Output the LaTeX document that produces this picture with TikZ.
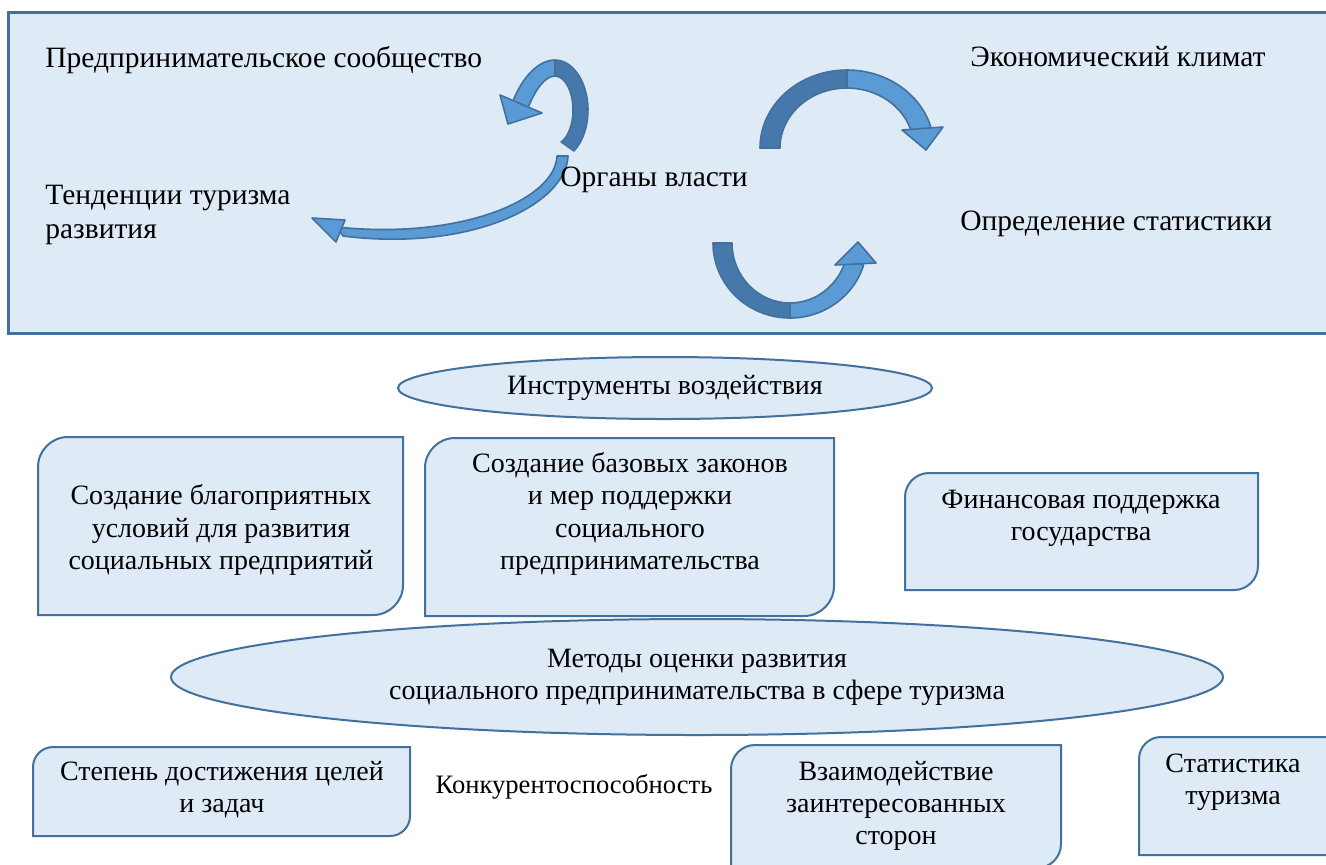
\documentclass[tikz,border=0pt]{standalone}
\usepackage{fontspec}
\setmainfont{Liberation Serif}
\usetikzlibrary{shapes.geometric}
\definecolor{fillblue}{RGB}{222,234,246}
\definecolor{edgeblue}{RGB}{65,113,156}
\definecolor{arrlight}{RGB}{91,155,213}
\definecolor{arrdark}{RGB}{70,120,172}
\newcommand\rdiag[5]{%
  \filldraw[shp] (#1+#5,#2) -- (#3,#2) -- (#3,#4-#5)
    .. controls (#3,#4-0.45*#5) and (#3-0.45*#5,#4) .. (#3-#5,#4)
    -- (#1,#4) -- (#1,#2+#5)
    .. controls (#1,#2+0.45*#5) and (#1+0.45*#5,#2) .. cycle;}
\begin{document}
\begin{tikzpicture}[x=0.5pt,y=-0.5pt,
  panel/.style={fill=fillblue,draw=edgeblue,line width=1.5pt},
  shp/.style={fill=fillblue,draw=edgeblue,line width=1pt},
  lbl/.style={font=\fontsize{14}{16.1}\selectfont,inner sep=0pt},
  toplbl/.style={font=\fontsize{14.75}{17}\selectfont,inner sep=0pt,anchor=west},
  ctr/.style={lbl,align=center},
  elnode/.style={ellipse,shp,inner sep=0pt,align=center,font=\fontsize{14}{16.1}\selectfont},
  arrL/.style={fill=arrlight,draw=edgeblue,line width=0.8pt,line join=round},
  arrD/.style={fill=arrdark,draw=edgeblue,line width=0.8pt,line join=round}]
\useasboundingbox (0,0) rectangle (1326,864);
\fill[white] (0,0) rectangle (1326,864);
\draw[panel] (8,12) rectangle (1340,333);

% arrow A (upper left, turning to the left)
\filldraw[arrD] (573.9,151) arc[start angle=55,end angle=-90,x radius=33,y radius=50]
  -- (555,76) arc[start angle=-90,end angle=70,x radius=18,y radius=34] -- cycle;
\filldraw[arrL] (555,60) .. controls (538,60) and (522,78) .. (513,101)
  -- (528,108) .. controls (535,90) and (545,76) .. (555,76) -- cycle;
\filldraw[arrL] (500,95) -- (542,113) -- (508,124) -- cycle;

% arrow B (down to the left)
\filldraw[arrL] (568,156) .. controls (566,205) and (470,252) .. (343,236)
  -- (337,227) .. controls (460,240) and (555,200) .. (557,156) -- cycle;
\filldraw[arrL] (345,220) -- (336,242) -- (312,218) -- cycle;

% arrow C (upper right)
\filldraw[arrD] (760,148) arc[start angle=180,end angle=270,x radius=87,y radius=78]
  -- (847,88) arc[start angle=270,end angle=180,x radius=67,y radius=60] -- cycle;
\filldraw[arrL] (847,70) arc[start angle=270,end angle=345,x radius=87,y radius=78]
  -- (911.7,132.5) arc[start angle=345,end angle=270,x radius=67,y radius=60] -- cycle;
\filldraw[arrL] (902,130) -- (943,127) -- (926,150) -- cycle;

% arrow D (lower)
\filldraw[arrD] (713,243) arc[start angle=180,end angle=90,x radius=77,y radius=75]
  -- (790,303) arc[start angle=90,end angle=180,x radius=58,y radius=60] -- cycle;
\filldraw[arrL] (790,318) arc[start angle=90,end angle=17,x radius=77,y radius=75]
  -- (846,258.5) arc[start angle=15,end angle=90,x radius=58,y radius=60] -- cycle;
\filldraw[arrL] (835,265) -- (876,263) -- (858,242) -- cycle;

% panel labels
\node[toplbl] (pred) at (45,60) {Предпринимательское сообщество};
\node[toplbl] (econ) at (970,57) {Экономический климат};
\node[toplbl] (organ) at (560,180) {Органы власти};
\node[toplbl,align=left] (tend) at (45,215) {Тенденции туризма\\развития};
\node[toplbl] (stat) at (960,224) {Определение статистики};

% ellipses
\node[elnode,minimum width=267pt,minimum height=31pt] (ell1) at (665,388) {Инструменты воздействия};
\node[elnode,minimum width=526pt,minimum height=58pt] (ell2) at (697,677) {Методы оценки развития\\социального предпринимательства в сфере туризма};

% boxes
\rdiag{38}{437}{403}{615}{30}
\rdiag{425}{438}{834}{616}{30}
\rdiag{905}{473}{1258}{590}{24}
\rdiag{33}{747}{410}{836}{20}
\rdiag{731}{745}{1061}{868}{24}
\rdiag{1139}{737}{1360}{855}{22}

\node[ctr] (b1) at (221,530) {Создание благоприятных\\условий для развития\\социальных предприятий};
\node[ctr] (b2) at (630,514) {Создание базовых законов\\и мер поддержки\\социального\\предпринимательства};
\node[ctr] (b3) at (1081,518) {Финансовая поддержка\\государства};
\node[ctr] (b4) at (222,790) {Степень достижения целей\\и задач};
\node[inner sep=0pt,font=\fontsize{13.3}{15}\selectfont] (konk) at (574,787) {Конкурентоспособность};
\node[ctr] (b5) at (896,806) {Взаимодействие\\заинтересованных\\сторон};
\node[ctr] (b6) at (1233,782) {Статистика\\туризма};
\end{tikzpicture}
\end{document}
